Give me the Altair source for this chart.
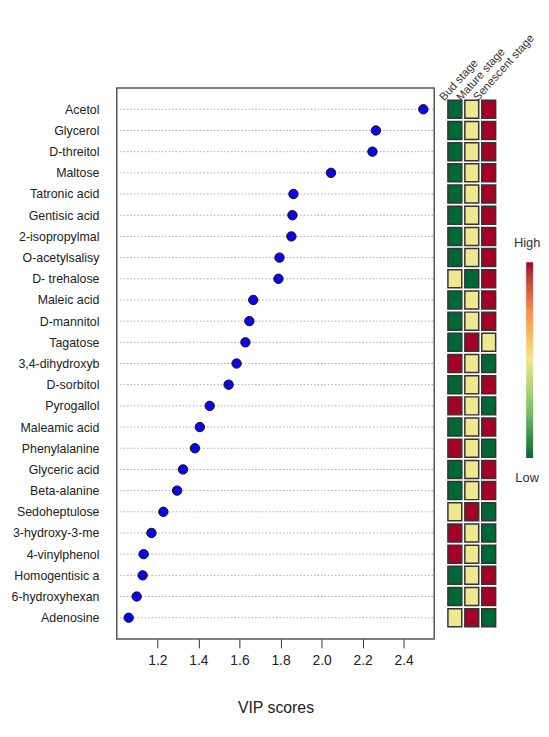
import altair as alt
import pandas as pd

names = ["Acetol", "Glycerol", "D-threitol", "Maltose", "Tatronic acid", "Gentisic acid",
         "2-isopropylmal", "O-acetylsalisy", "D- trehalose", "Maleic acid", "D-mannitol",
         "Tagatose", "3,4-dihydroxyb", "D-sorbitol", "Pyrogallol", "Maleamic acid",
         "Phenylalanine", "Glyceric acid", "Beta-alanine", "Sedoheptulose",
         "3-hydroxy-3-me", "4-vinylphenol", "Homogentisic a", "6-hydroxyhexan", "Adenosine"]
vip = [2.496, 2.265, 2.248, 2.046, 1.863, 1.858, 1.853, 1.795, 1.790, 1.667, 1.648,
       1.629, 1.586, 1.547, 1.455, 1.407, 1.383, 1.325, 1.296, 1.229, 1.171, 1.133,
       1.128, 1.099, 1.060]

stages = ["Bud stage", "Mature stage", "Senescent stage"]
# 1 = low, 2 = mid, 3 = high
bud =       [1, 1, 1, 1, 1, 1, 1, 1, 2, 1, 1, 1, 3, 1, 3, 1, 3, 1, 1, 2, 3, 3, 1, 1, 2]
mature =    [2, 2, 2, 2, 2, 2, 2, 2, 1, 2, 2, 3, 2, 2, 2, 2, 2, 2, 2, 3, 2, 2, 2, 2, 3]
senescent = [3, 3, 3, 3, 3, 3, 3, 3, 3, 3, 3, 2, 1, 3, 1, 3, 1, 3, 3, 1, 1, 1, 3, 3, 1]

x_ticks = [1.2, 1.4, 1.6, 1.8, 2.0, 2.2, 2.4]
legend_labels = ["High", "Low"]

FONT = "Liberation Sans"
W, H = 321, 557

dots_df = pd.DataFrame({"name": names, "vip": vip})
rows = []
for st, vals in zip(stages, [bud, mature, senescent]):
    for n, v in zip(names, vals):
        rows.append({"name": n, "stage": st, "level": v})
heat_df = pd.DataFrame(rows)

y_dot = alt.Y("name:N", sort=names, title=None,
              scale=alt.Scale(type="point", padding=1),
              axis=alt.Axis(labelFont=FONT, labelFontSize=12.5, labelColor="#222",
                            ticks=False, domain=False, labelPadding=18))

grid = alt.Chart(dots_df).mark_rule(strokeDash=[1.5, 2], color="#aaa", strokeWidth=1).encode(
    y=y_dot, x=alt.value(0), x2=alt.value(W))

pts = alt.Chart(dots_df).mark_point(filled=True, shape="circle", size=90, fill="#0808e6",
                                    stroke="#111", strokeWidth=1, opacity=1).encode(
    y=y_dot,
    x=alt.X("vip:Q", title="VIP scores",
            scale=alt.Scale(domain=[1.002, 2.549], nice=False, zero=False),
            axis=alt.Axis(values=x_ticks, format=".1f", grid=False, domain=False,
                          tickSize=9, tickColor="#333", tickWidth=1,
                          labelFont=FONT, labelFontSize=14, labelColor="#222", labelPadding=6,
                          titleFont=FONT, titleFontSize=16, titleFontWeight="normal",
                          titleColor="#222", titlePadding=32)))

dots = alt.layer(grid, pts).properties(
    width=W, height=H,
    view=alt.ViewBackground(stroke="#555", strokeWidth=1.5))

color_scale = alt.Scale(domain=[1, 1.5, 2, 2.5, 3],
                        range=["#006837", "#7cc26a", "#f0e891", "#f88d50", "#a50026"])

heat_rect = alt.Chart(heat_df).mark_rect(stroke="#333", strokeWidth=1.5).encode(
    x=alt.X("stage:N", sort=stages, title=None,
            scale=alt.Scale(paddingInner=0.18, paddingOuter=0.05),
            axis=alt.Axis(orient="top", labelAngle=-48, labelAlign="left",
                          labelBaseline="middle", ticks=False, domain=False,
                          labelFont=FONT, labelFontSize=11.5, labelColor="#333",
                          labelPadding=-11, labelOffset=-13)),
    y=alt.Y("name:N", sort=names, title=None,
            scale=alt.Scale(paddingInner=0.15, paddingOuter=0.575),
            axis=None),
    color=alt.Color("level:Q", scale=color_scale,
                    legend=alt.Legend(orient="none", legendX=414, legendY=176,
                                      title=None, values=[],
                                      gradientLength=198, gradientThickness=7,
                                      gradientStrokeWidth=0, direction="vertical")))

high_txt = alt.Chart(pd.DataFrame({"t": [legend_labels[0]]})).mark_text(
    font=FONT, fontSize=13, color="#333").encode(
    text="t:N", x=alt.value(81), y=alt.value(157))
low_txt = alt.Chart(pd.DataFrame({"t": [legend_labels[1]]})).mark_text(
    font=FONT, fontSize=13, color="#333").encode(
    text="t:N", x=alt.value(81), y=alt.value(394))

heat = alt.layer(heat_rect, high_txt, low_txt).properties(width=50, height=H)

chart = alt.hconcat(dots, heat, spacing=13, bounds="flush").properties(
    padding={"left": 2, "top": 20, "right": 0, "bottom": 0}
).configure_view(stroke=None)

chart.save("out.html", embed_options={"renderer": "svg", "actions": False})
